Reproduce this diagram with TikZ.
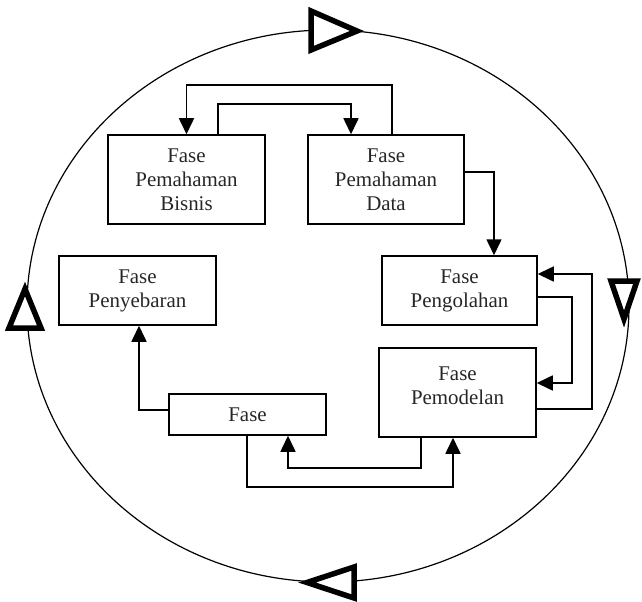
\documentclass[tikz,border=0pt]{standalone}
\usepackage{fontspec}
\setmainfont{Liberation Serif}
\usetikzlibrary{arrows.meta}
\begin{document}
\begin{tikzpicture}[x=1bp,y=-1bp,
  box/.style={draw, line width=1.5bp, rectangle, align=center, inner sep=0pt,
    font=\fontsize{21}{24}\selectfont, text=black!85},
  arr/.style={line width=1.6bp, -{Triangle[length=16bp,width=15bp]}},
  dirtri/.style={line width=5.5bp, miter limit=20, fill=white, line join=miter}]
\useasboundingbox (0,0) rectangle (642,602);
% cycle ellipse
\draw[line width=1.2bp] (328,306) ellipse [x radius=301, y radius=276];
\draw[dirtri] (311,11) -- (311,50) -- (357,31) -- cycle;
\draw[dirtri] (611,281) -- (637,281) -- (624,319) -- cycle;
\draw[dirtri] (354,567) -- (354,598) -- (307,582.5) -- cycle;
\draw[dirtri] (9,328) -- (41,328) -- (25,289) -- cycle;
% boxes
\node[box, minimum width=157bp, minimum height=89bp] (bisnis) at (186.5,179.5) {Fase\\Pemahaman\\Bisnis};
\node[box, minimum width=156bp, minimum height=89bp] (data) at (386,179.5) {Fase\\Pemahaman\\Data};
\node[box, minimum width=155bp, minimum height=69bp] (pengolahan) at (459.5,290.5) {Fase\\Pengolahan};
\node[box, minimum width=157bp, minimum height=89bp,
  label={[font=\fontsize{21}{24}\selectfont, text=black!85, align=center, yshift=7bp]center:Fase\\Pemodelan}] (pemodelan) at (457.5,392.5) {};
\node[box, minimum width=157bp, minimum height=69bp] (penyebaran) at (137.5,290.5) {Fase\\Penyebaran};
\node[box, minimum width=157bp, minimum height=41bp] (fase) at (247.5,414.5) {Fase};
% connectors
\draw[arr] (data.north -| 392,0) -- (392,85) -| (bisnis.north);
\draw[arr] (bisnis.north -| 218,0) -- (218,104) -| (data.north -| 351,0);
\draw[arr] (data.east |- 0,172) -| (pengolahan.north -| 494,0);
\draw[arr] (pengolahan.east |- 0,297) -| (572,383) -- (pemodelan.east |- 0,383);
\draw[arr] (pemodelan.east |- 0,409) -| (592,274) -- (pengolahan.east |- 0,274);
\draw[arr] (fase.west |- 0,410) -| (penyebaran.south -| 139,0);
\draw[arr] (fase.south -| 247,0) |- (453,487) -- (pemodelan.south -| 453,0);
\draw[arr] (pemodelan.south -| 421,0) |- (288,468) -- (fase.south -| 288,0);
\end{tikzpicture}
\end{document}
